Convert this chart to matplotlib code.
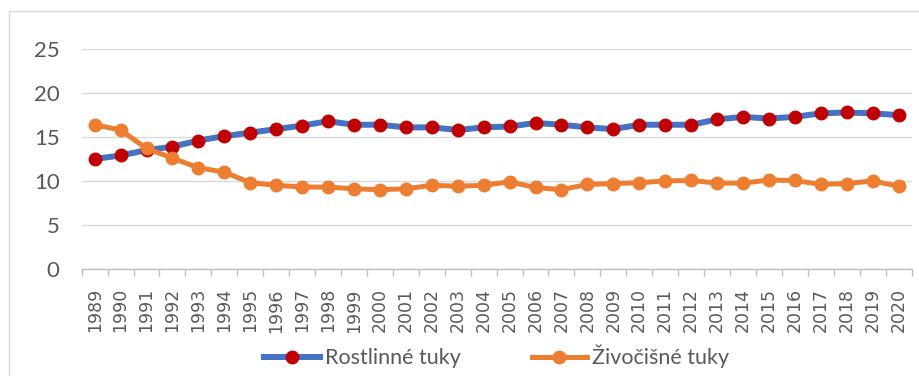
import matplotlib
matplotlib.use("Agg")
from matplotlib import pyplot as plt
from matplotlib.patches import Rectangle
from matplotlib.ticker import FixedLocator, NullFormatter

# spotřeba tuků (kg na obyvatele a rok)
years = list(range(1989, 2021))
rostlinne = [12.5, 12.9, 13.5, 13.9, 14.6, 15.1, 15.5, 15.9, 16.3, 16.8,
             16.4, 16.4, 16.1, 16.1, 15.8, 16.1, 16.2, 16.6, 16.4, 16.1,
             15.9, 16.4, 16.4, 16.4, 17.0, 17.3, 17.1, 17.3, 17.7, 17.8,
             17.7, 17.5]
zivocisne = [16.4, 15.8, 13.7, 12.6, 11.5, 11.0, 9.8, 9.5, 9.3, 9.3,
             9.1, 9.0, 9.1, 9.5, 9.4, 9.5, 9.9, 9.25, 9.0, 9.6,
             9.7, 9.8, 10.0, 10.05, 9.75, 9.75, 10.1, 10.05, 9.6, 9.7,
             10.0, 9.4]

grey_text = "#595959"
grid_col = "#d9d9d9"
label_font = "Lato"

fig = plt.figure(figsize=(9.2, 3.76), dpi=100)
ax = fig.add_axes([0.0888, 0.2854, 0.902, 0.5836])

# rámeček grafu
fig.patches.append(Rectangle((9 / 920, -0.1), 1.2, 1 - 11 / 376 + 0.1,
                             transform=fig.transFigure, fill=False,
                             edgecolor=grid_col, linewidth=1.0))

x = list(range(len(years)))
ax.plot(x, rostlinne, color="#4472C4", linewidth=4.3, marker="o",
        markersize=9, markerfacecolor="#C00000", markeredgecolor="#C00000",
        label="Rostlinné tuky", zorder=3)
ax.plot(x, zivocisne, color="#ED7D31", linewidth=3.6, marker="o",
        markersize=9, markerfacecolor="#ED7D31", markeredgecolor="#ED7D31",
        label="Živočišné tuky", zorder=4)

ax.set_xlim(-0.5, len(years) - 0.5)
ax.set_ylim(0, 25)
ax.set_yticks([0, 5, 10, 15, 20, 25])
ax.yaxis.grid(True, color=grid_col, linewidth=1.0)
ax.set_axisbelow(True)

for s in ["top", "right", "left"]:
    ax.spines[s].set_visible(False)
ax.spines["bottom"].set_color("#bfbfbf")
ax.spines["bottom"].set_linewidth(1.0)

ax.set_xticks(x)
ax.set_xticklabels([str(y) for y in years], rotation=90,
                   fontsize=12.5, color=grey_text, family="DejaVu Sans")
ax.tick_params(axis="x", which="major", length=0, pad=14)
ax.xaxis.set_minor_locator(FixedLocator([i - 0.5 for i in range(len(years) + 1)]))
ax.xaxis.set_minor_formatter(NullFormatter())
ax.tick_params(axis="x", which="minor", length=5, color="#bfbfbf", width=1.0)

ax.tick_params(axis="y", length=0, pad=16, labelsize=16, labelcolor=grey_text)
for t in ax.get_yticklabels():
    t.set_family(label_font)

leg = ax.legend(loc="center", bbox_to_anchor=(0.5, -0.40), ncol=2,
                frameon=False, handlelength=2.6, handletextpad=0.2,
                columnspacing=3.3,
                prop={"family": label_font, "size": 15.5})
for t in leg.get_texts():
    t.set_color(grey_text)

fig.savefig("out.png", dpi=100)
